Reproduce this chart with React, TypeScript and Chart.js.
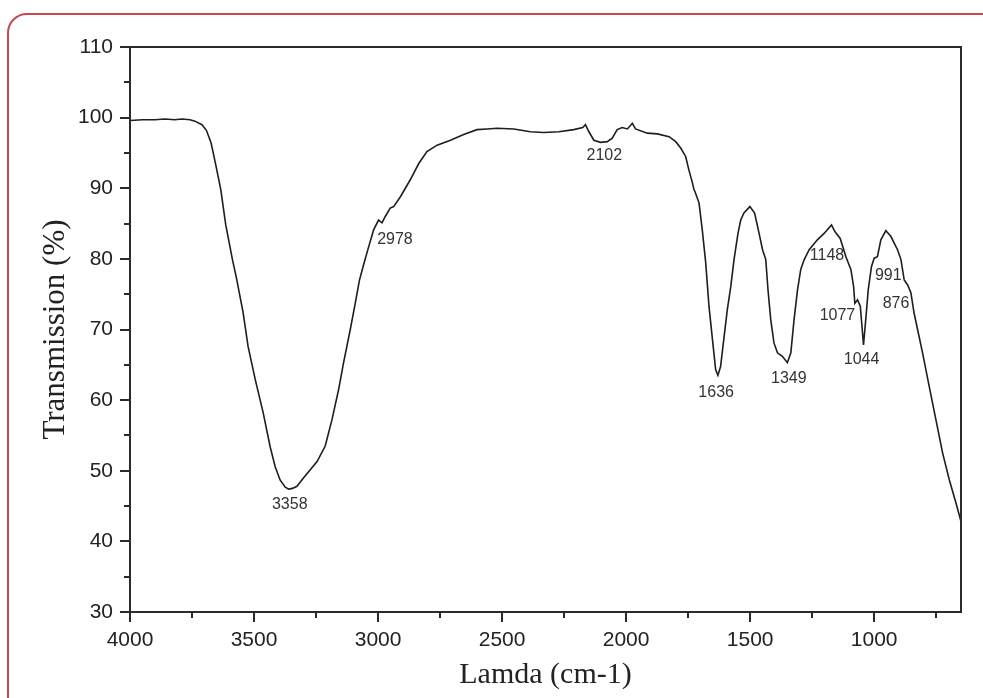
import { useEffect, useRef } from 'react';
import { Chart, registerables } from 'chart.js';

Chart.register(...registerables);

const wavenumbers = [
  4000, 3950, 3900, 3859, 3820, 3790, 3758, 3738, 3710, 3692, 3673, 3653, 3634, 3614, 3587, 3571,
  3544, 3524, 3495, 3463, 3435, 3415, 3395, 3375, 3361, 3345, 3327, 3300, 3270, 3246, 3213, 3186,
  3159, 3139, 3112, 3092, 3075, 3058, 3038, 3018, 2998, 2984, 2971, 2951, 2937, 2910, 2870, 2836,
  2803, 2762, 2708, 2655, 2601, 2560, 2520, 2453, 2386, 2332, 2271, 2211, 2175, 2164, 2150, 2130,
  2103, 2076, 2056, 2036, 2016, 1995, 1975, 1962, 1915, 1874, 1827, 1800, 1780, 1760, 1747, 1733,
  1727, 1720, 1706, 1693, 1679, 1666, 1652, 1639, 1630, 1619, 1605, 1592, 1578, 1565, 1549, 1538,
  1525, 1501, 1482, 1464, 1450, 1437, 1428, 1417, 1404, 1390, 1370, 1350, 1336, 1323, 1309, 1296,
  1282, 1262, 1229, 1202, 1172, 1159, 1137, 1114, 1094, 1083, 1078, 1067, 1056, 1043, 1034, 1024,
  1011, 1000, 987, 973, 953, 933, 906, 892, 879, 865, 852, 839, 825, 805, 778, 751,
  724, 697, 670, 650,
];

const transmission = [
  99.6, 99.7, 99.7, 99.8, 99.7, 99.8, 99.7, 99.5, 99.0, 98.2, 96.4, 93.1, 89.8, 84.8, 79.9, 77.3,
  72.4, 67.6, 62.9, 58.2, 53.4, 50.6, 48.7, 47.7, 47.4, 47.5, 47.8, 49.0, 50.3, 51.3, 53.5, 57.2,
  61.5, 65.3, 70.0, 73.7, 77.0, 79.2, 81.7, 84.1, 85.5, 85.1, 86.0, 87.2, 87.4, 88.8, 91.2, 93.5,
  95.2, 96.1, 96.8, 97.6, 98.3, 98.4, 98.5, 98.4, 98.0, 97.9, 98.0, 98.3, 98.6, 99.0, 98.0, 96.8,
  96.5, 96.6, 97.1, 98.3, 98.6, 98.4, 99.2, 98.4, 97.8, 97.7, 97.3, 96.6, 95.7, 94.5, 92.6, 90.8,
  89.9, 89.3, 87.9, 84.1, 79.4, 73.3, 68.6, 64.3, 63.5, 64.8, 69.0, 72.8, 76.1, 79.9, 83.6, 85.5,
  86.5, 87.4, 86.5, 83.6, 81.3, 79.9, 75.6, 71.4, 68.1, 66.7, 66.2, 65.3, 66.7, 71.4, 75.6, 78.5,
  79.9, 81.3, 82.7, 83.6, 84.8, 83.9, 82.9, 80.3, 78.5, 76.1, 73.7, 74.2, 73.3, 67.8, 71.4, 75.6,
  78.9, 80.1, 80.3, 82.7, 84.0, 83.2, 81.3, 79.9, 77.0, 76.3, 75.2, 72.3, 70.0, 66.7, 61.9, 57.2,
  52.5, 48.7, 45.4, 42.8,
];

const xTickValues = [4000, 3500, 3000, 2500, 2000, 1500, 1000];
const xMinorTickValues = [3750, 3250, 2750, 2250, 1750, 1250, 750];
const yTickValues = [30, 40, 50, 60, 70, 80, 90, 100, 110];
const yMinorTickValues = [35, 45, 55, 65, 75, 85, 95, 105];

const peakLabels = ['3358', '2978', '2102', '1636', '1349', '1148', '1077', '1044', '991', '876'];
const peakLabelX = [3356, 2932, 2088, 1637, 1344, 1190, 1148, 1051, 943, 912];
const peakLabelY = [45.2, 82.7, 94.6, 61.0, 63.0, 80.5, 71.9, 65.7, 77.6, 73.7];

const SANS = '"Liberation Sans", Arial, Helvetica, sans-serif';
const SERIF = '"Liberation Serif", "Times New Roman", Times, serif';

const framePlugin = {
  id: 'frameAndLabels',
  afterDraw(chart: any) {
    const { ctx, chartArea: a, scales } = chart;
    const xs = scales.x;
    const ys = scales.y;
    ctx.save();
    ctx.strokeStyle = '#2b2b2b';
    ctx.lineWidth = 2;
    ctx.strokeRect(a.left, a.top, a.right - a.left, a.bottom - a.top);
    ctx.beginPath();
    xTickValues.forEach((v) => {
      const p = Math.round(xs.getPixelForValue(v));
      ctx.moveTo(p, a.bottom);
      ctx.lineTo(p, a.bottom + 10);
    });
    xMinorTickValues.forEach((v) => {
      const p = Math.round(xs.getPixelForValue(v));
      ctx.moveTo(p, a.bottom);
      ctx.lineTo(p, a.bottom + 6);
    });
    yTickValues.forEach((v) => {
      const p = Math.round(ys.getPixelForValue(v));
      ctx.moveTo(a.left, p);
      ctx.lineTo(a.left - 10, p);
    });
    yMinorTickValues.forEach((v) => {
      const p = Math.round(ys.getPixelForValue(v));
      ctx.moveTo(a.left, p);
      ctx.lineTo(a.left - 6, p);
    });
    ctx.stroke();

    ctx.font = `16px ${SANS}`;
    ctx.fillStyle = '#333';
    ctx.textAlign = 'center';
    ctx.textBaseline = 'middle';
    peakLabels.forEach((t, i) => {
      ctx.fillText(t, xs.getPixelForValue(peakLabelX[i]), ys.getPixelForValue(peakLabelY[i]));
    });
    ctx.restore();
  },
};

export default function App() {
  const canvasRef = useRef<HTMLCanvasElement | null>(null);

  useEffect(() => {
    const canvas = canvasRef.current;
    if (!canvas) return;
    const chart = new Chart(canvas, {
      type: 'line',
      data: {
        datasets: [
          {
            data: wavenumbers.map((w, i) => ({ x: w, y: transmission[i] })),
            borderColor: '#1e1e1e',
            borderWidth: 1.6,
            pointRadius: 0,
            tension: 0,
            fill: false,
          },
        ],
      },
      options: {
        animation: false,
        responsive: false,
        maintainAspectRatio: false,
        devicePixelRatio: 1,
        layout: { padding: { top: 47, right: 22, left: 0, bottom: 0 } },
        plugins: { legend: { display: false }, tooltip: { enabled: false } },
        scales: {
          x: {
            type: 'linear',
            reverse: true,
            min: 650,
            max: 4000,
            afterBuildTicks: (s: any) => {
              s.ticks = xTickValues.map((v) => ({ value: v }));
            },
            afterFit: (s: any) => {
              s.height = 86;
            },
            grid: { display: false, drawTicks: false },
            border: { display: false },
            ticks: {
              padding: 16,
              autoSkip: false,
              maxRotation: 0,
              color: '#222',
              font: { family: SANS, size: 21 },
              callback: (v: any) => String(v),
            },
            title: {
              display: true,
              text: 'Lamda (cm-1)',
              color: '#222',
              font: { family: SERIF, size: 30 },
              padding: { top: 0, bottom: 5 },
            },
          },
          y: {
            type: 'linear',
            min: 30,
            max: 110,
            afterBuildTicks: (s: any) => {
              s.ticks = yTickValues.map((v) => ({ value: v }));
            },
            afterFit: (s: any) => {
              s.width = 130;
            },
            grid: { display: false, drawTicks: false },
            border: { display: false },
            ticks: {
              padding: 17,
              color: '#222',
              font: { family: SANS, size: 21 },
              callback: (v: any) => String(v),
            },
            title: {
              display: true,
              text: 'Transmission (%)',
              color: '#222',
              font: { family: SERIF, size: 31 },
              padding: { top: 37, bottom: 0 },
            },
          },
        },
      },
      plugins: [framePlugin],
    });
    return () => chart.destroy();
  }, []);

  return (
    <div
      style={{
        position: 'fixed',
        left: 0,
        top: 0,
        width: 983,
        height: 698,
        overflow: 'hidden',
        background: '#fff',
      }}
    >
      <div
        style={{
          position: 'absolute',
          left: 7,
          top: 13,
          width: 1020,
          height: 720,
          boxSizing: 'border-box',
          border: '2px solid rgb(200, 72, 80)',
          borderRadius: 20,
        }}
      />
      <canvas
        ref={canvasRef}
        width={983}
        height={698}
        style={{ position: 'absolute', left: 0, top: 0, width: 983, height: 698, display: 'block' }}
      />
    </div>
  );
}
